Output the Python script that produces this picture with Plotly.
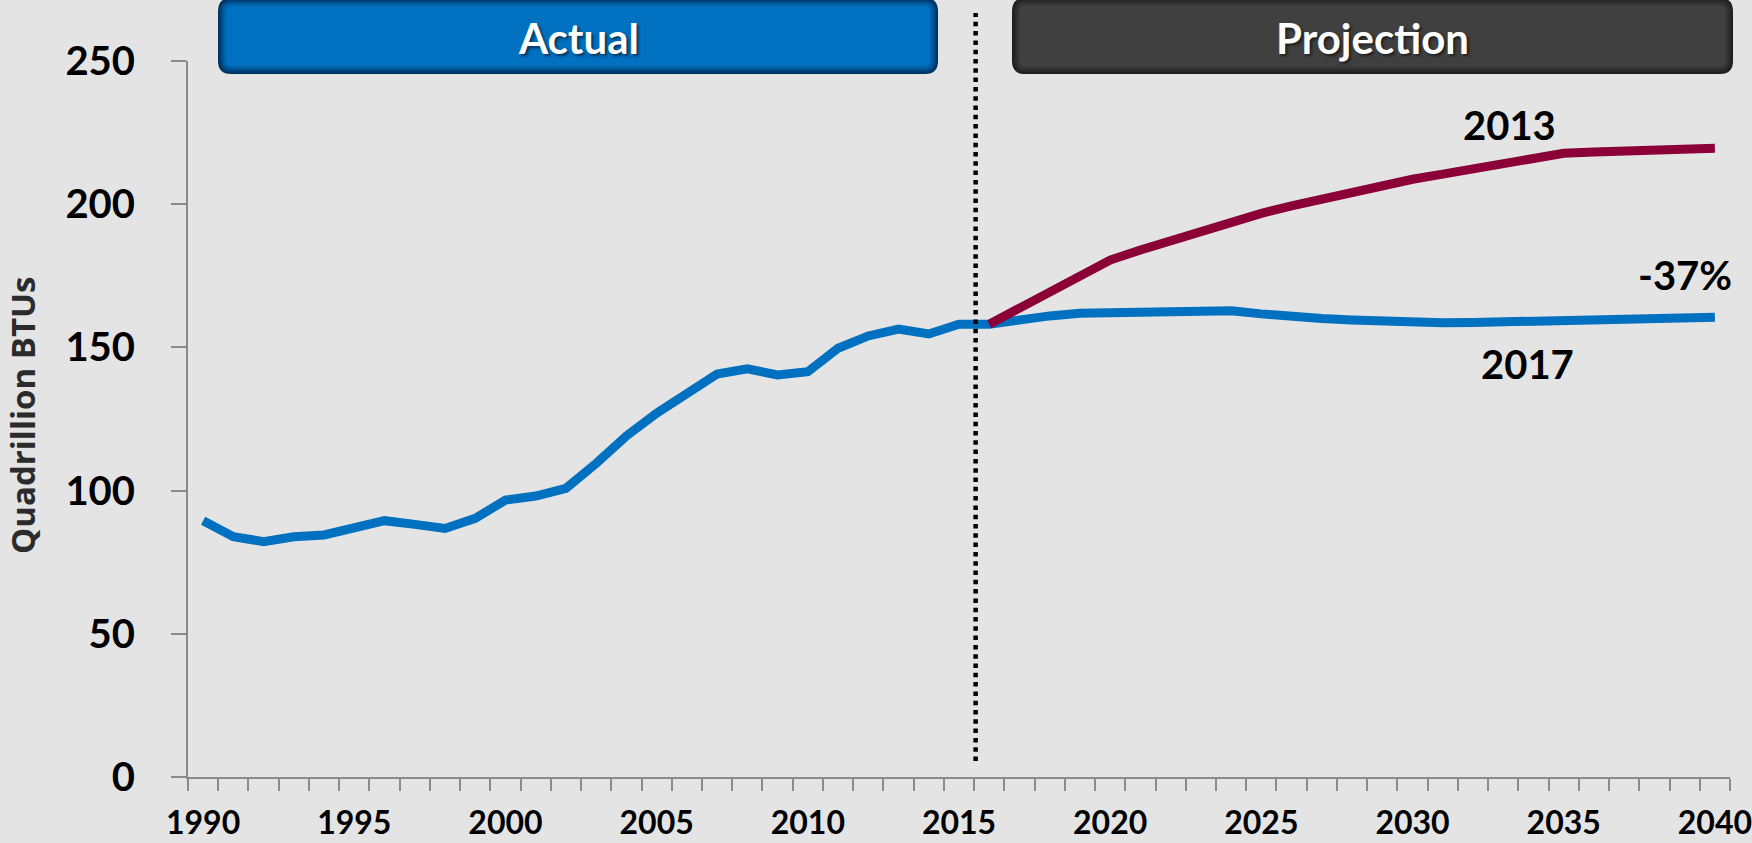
import plotly.graph_objects as go

# ---------------- data ----------------
years = list(range(1990, 2041))
consumption_2017 = [
    89.5, 83.9, 82.2, 83.9, 84.5, 86.9, 89.5, 88.2, 86.8, 90.3,
    96.7, 98.1, 100.8, 109.5, 119.1, 127.0, 133.7, 140.7, 142.5, 140.4,
    141.5, 149.7, 154.0, 156.4, 154.7, 158.1, 158.1, 159.8, 161.0, 161.9,
    162.1, 162.2, 162.7, 163.1, 162.8, 161.7, 160.7, 160.1, 159.6, 159.1,
    158.6, 158.6, 158.7, 158.9, 158.9, 159.2, 159.4, 159.7, 159.9, 160.1,
    160.5,
]
years_2013 = list(range(2016, 2041))
consumption_2013 = [
    158.1, 163.8, 169.5, 175.1, 180.5, 184.0, 187.4, 190.8, 193.9, 196.8,
    199.4, 201.8, 204.4, 206.7, 208.7, 210.5, 212.5, 214.4, 216.4, 217.8,
    218.2, 218.6, 218.9, 219.3, 219.5,
]
x_tick_vals = [1990, 1995, 2000, 2005, 2010, 2015, 2020, 2025, 2030, 2035, 2040]
x_tick_text = [str(v) for v in x_tick_vals]
y_tick_vals = [0, 50, 100, 150, 200, 250]
divider_year = 2015.55
series_labels = [("2013", 2033.2, 227.6), ("-37%", 2039.0, 175.3), ("2017", 2033.8, 144.2)]
header_labels = ["Actual", "Projection"]

# ---------------- layout geometry (pixels) ----------------
W, H = 1752, 843
ML, MR, MT, MB = 188, 22, 61, 66
PW, PH = W - ML - MR, H - MT - MB


def X(px):
    return (px - ML) / PW


def Y(py):
    return (H - MB - py) / PH


def rrect(x0, y0, x1, y1, r):
    return (
        f"M {X(x0 + r)},{Y(y0)} L {X(x1 - r)},{Y(y0)} "
        f"Q {X(x1)},{Y(y0)} {X(x1)},{Y(y0 + r)} L {X(x1)},{Y(y1 - r)} "
        f"Q {X(x1)},{Y(y1)} {X(x1 - r)},{Y(y1)} L {X(x0 + r)},{Y(y1)} "
        f"Q {X(x0)},{Y(y1)} {X(x0)},{Y(y1 - r)} L {X(x0)},{Y(y0 + r)} "
        f"Q {X(x0)},{Y(y0)} {X(x0 + r)},{Y(y0)} Z"
    )


def mix(c1, c2, t):
    return "rgb(%d,%d,%d)" % tuple(round(a + (b - a) * t) for a, b in zip(c1, c2))


fig = go.Figure()

fig.add_trace(go.Scatter(
    x=years, y=consumption_2017, mode="lines",
    line=dict(color="#0070C0", width=9), hoverinfo="skip", showlegend=False,
))
fig.add_trace(go.Scatter(
    x=years_2013, y=consumption_2013, mode="lines",
    line=dict(color="#8B0036", width=9), hoverinfo="skip", showlegend=False,
))

shapes = []
boxes = [
    ((218, -2, 938, 74), (0, 50, 95), (0, 112, 192)),
    ((1012, -2, 1733, 74), (30, 30, 30), (64, 64, 64)),
]
steps = [0, 1.5, 3, 4.5, 6, 8]
for (x0, y0, x1, y1), dark, base in boxes:
    for i, s in enumerate(steps):
        t = i / (len(steps) - 1)
        shapes.append(dict(
            type="path", xref="paper", yref="paper",
            path=rrect(x0 + s, y0 + s, x1 - s, y1 - s, max(13 - s, 3)),
            fillcolor=mix(dark, base, t), line=dict(width=0), layer="above",
        ))

shapes.append(dict(
    type="line", xref="x", yref="paper",
    x0=divider_year, x1=divider_year, y0=Y(761), y1=Y(13),
    line=dict(color="black", width=4.5, dash="4.5px,4.8px"), layer="above",
))

annotations = []
annotations.append(dict(
    xref="paper", yref="paper", x=X(578), y=Y(38), text=header_labels[0],
    showarrow=False, xanchor="center", yanchor="middle",
    font=dict(family="Lato", size=42, color="white", weight="bold",
              shadow="2px 2px 3px rgba(0,0,0,0.55)"),
))
annotations.append(dict(
    xref="paper", yref="paper", x=X(1372), y=Y(38), text=header_labels[1],
    showarrow=False, xanchor="center", yanchor="middle",
    font=dict(family="Lato", size=42, color="white", weight="bold",
              shadow="2px 2px 3px rgba(0,0,0,0.55)"),
))
for txt, xv, yv in series_labels:
    annotations.append(dict(
        x=xv, y=yv, xref="x", yref="y", text=txt, showarrow=False,
        xanchor="center", yanchor="middle",
        font=dict(family="Lato", size=40, color="black", weight="bold"),
    ))
annotations.append(dict(
    xref="paper", yref="paper", x=X(22), y=Y(416), text="Quadrillion BTUs",
    showarrow=False, textangle=-90, xanchor="center", yanchor="middle",
    font=dict(family="Open Sans", size=33, color="#2b2b2b", weight="bold"),
))

axis_color = "#8a8a8a"
fig.update_layout(
    width=W, height=H,
    margin=dict(l=ML, r=MR, t=MT, b=MB, pad=0, autoexpand=False),
    paper_bgcolor="#E4E4E4", plot_bgcolor="#E4E4E4",
    shapes=shapes, annotations=annotations,
    xaxis=dict(
        range=[1989.5, 2040.5], showgrid=False, zeroline=False,
        showline=True, linecolor=axis_color, linewidth=2,
        tickmode="array", tickvals=x_tick_vals, ticktext=x_tick_text,
        ticks="", ticklabelstandoff=17, ticklabeloverflow="allow",
        automargin=False,
        tickfont=dict(family="Lato", size=32, color="black", weight="bold"),
        minor=dict(tickmode="array", tickvals=[y - 0.5 for y in years] + [2040.5],
                   ticks="outside", ticklen=12, tickwidth=1.5, tickcolor=axis_color,
                   showgrid=False),
        fixedrange=True,
    ),
    yaxis=dict(
        range=[0, 250], showgrid=False, zeroline=False,
        showline=True, linecolor=axis_color, linewidth=2,
        tickmode="array", tickvals=y_tick_vals,
        ticks="outside", ticklen=15, tickwidth=1.5, tickcolor=axis_color,
        ticklabelstandoff=28, automargin=False,
        tickfont=dict(family="Lato", size=40, color="black", weight="bold"),
        fixedrange=True,
    ),
)

fig.write_html("out.html")
